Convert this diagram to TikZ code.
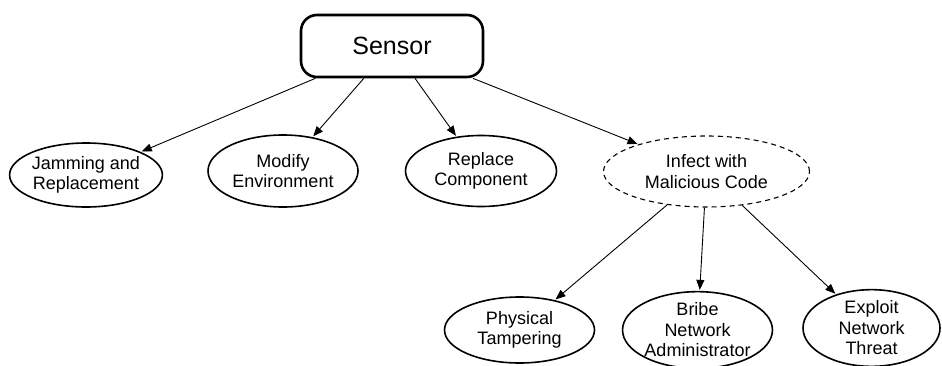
\documentclass[tikz,border=0pt]{standalone}
\usepackage{fontspec}
\setmainfont{Liberation Sans}
\usetikzlibrary{shapes.geometric,arrows.meta}
\begin{document}
\begin{tikzpicture}[x=1pt,y=1pt,
  leaf/.style={ellipse,draw,line width=1.6pt,inner sep=0pt,align=center,
    font=\fontsize{18}{20.5}\selectfont},
  root/.style={rectangle,rounded corners=16pt,draw,line width=2.6pt,inner sep=0pt,
    font=\fontsize{25}{30}\selectfont},
  conn/.style={line width=0.9pt,-{Triangle[length=10pt,width=8pt]},shorten >=1pt}]
\useasboundingbox (0,0) rectangle (942,365);
\node[root,minimum width=182pt,minimum height=62pt] (s) at (392,319) {Sensor};
\node[leaf,minimum width=148pt,minimum height=64pt] (jam) at (86,190) {Jamming and\\Replacement};
\node[leaf,minimum width=150pt,minimum height=72pt] (mod) at (283,194) {Modify\\Environment};
\node[leaf,minimum width=151pt,minimum height=71pt] (rep) at (481,194) {Replace\\Component};
\node[leaf,dash pattern=on 5pt off 4pt,line width=1.1pt,minimum width=206pt,minimum height=71pt] (inf) at (706.5,193.5) {Infect with\\Malicious Code};
\node[leaf,minimum width=150pt,minimum height=66pt] (phy) at (519.5,35) {Physical\\Tampering};
\node[leaf,minimum width=149pt,minimum height=70pt] (bri) at (697.5,35) {Bribe\\Network\\Administrator};
\node[leaf,minimum width=137pt,minimum height=70pt] (exp) at (871.5,37) {Exploit\\Network\\Threat};
\draw[conn] (s) -- (jam);
\draw[conn] (s) -- (mod);
\draw[conn] (s) -- (rep);
\draw[conn] (s) -- (inf);
\draw[conn] (inf) -- (phy);
\draw[conn] (inf) -- (bri);
\draw[conn] (inf) -- (exp);
\end{tikzpicture}
\end{document}
